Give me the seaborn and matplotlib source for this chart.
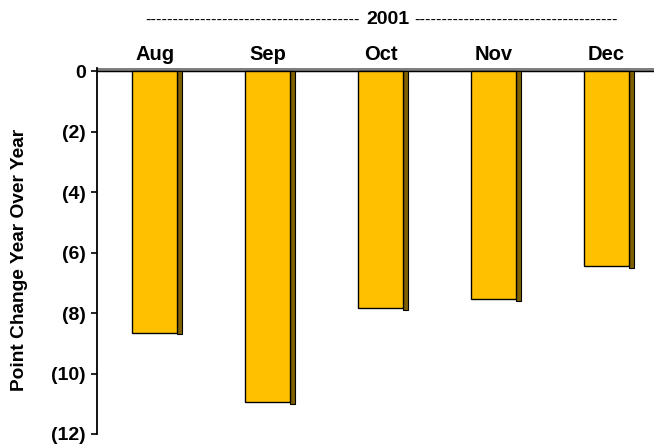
import matplotlib
matplotlib.use("Agg")
import matplotlib.pyplot as plt
import seaborn as sns
import pandas as pd
from matplotlib.patches import Rectangle

months = ["Aug", "Sep", "Oct", "Nov", "Dec"]
values = [-8.65, -10.95, -7.85, -7.55, -6.45]
ytick_vals = [0, -2, -4, -6, -8, -10, -12]
ytick_labels = ["0", "(2)", "(4)", "(6)", "(8)", "(10)", "(12)"]
header = "2001"
ylabel = "Point Change Year Over Year"

sns.set_theme(style="white")
plt.rcParams['font.family'] = ['Liberation Sans', 'DejaVu Sans']
plt.rcParams['text.color'] = 'black'
plt.rcParams['xtick.color'] = 'black'
plt.rcParams['ytick.color'] = 'black'
plt.rcParams['xtick.labelcolor'] = 'black'
plt.rcParams['ytick.labelcolor'] = 'black'

df = pd.DataFrame({"month": months, "value": values})

fig = plt.figure(figsize=(6.54, 4.46), dpi=100)
ax = fig.add_axes([97/654, 1-434/446, 1-97/654, (434-68)/446])

sns.barplot(data=df, x="month", y="value", ax=ax, color="#FFC000",
            width=0.4, saturation=1, edgecolor="black", linewidth=1.0, zorder=3)

# 3D-style shadow on the right of each bar
for p in list(ax.patches):
    x0 = p.get_x() + p.get_width()
    h = p.get_height()
    ax.add_patch(Rectangle((x0, 0), 0.045, h - 0.05, facecolor="#7F6000",
                           edgecolor="black", linewidth=0.8, zorder=2))

# floor line at zero
ax.axhline(0.05, color="#7f7f7f", lw=3, zorder=1)
ax.axhline(0, color="black", lw=1, zorder=1.5)

ax.set_xlim(-0.51, 4.42)
ax.set_ylim(-12, 0.1)
ax.set_yticks(ytick_vals)
ax.set_yticklabels(ytick_labels, fontsize=14, fontweight="bold", color="black")
ax.tick_params(axis="y", direction="out", length=4, width=1.2, color="black", pad=4, left=True)
ax.xaxis.tick_top()
ax.tick_params(axis="x", length=0, pad=3)
for lbl in ax.get_xticklabels():
    lbl.set_fontsize(14.5)
    lbl.set_fontweight("bold")
    lbl.set_color("black")
ax.set_xlabel("")
ax.set_ylabel("")

for s in ["top", "right", "bottom"]:
    ax.spines[s].set_visible(False)
ax.spines["left"].set_color("black")
ax.spines["left"].set_linewidth(1.3)

fig.text(20/654, 1-260/446, ylabel, rotation=90, fontsize=13.8, fontweight="bold",
         ha="center", va="center", color="black")
ytxt = 1-20/446
fig.text(360/654, ytxt, "-" * 39, fontsize=12, ha="right", va="center", color="black")
fig.text(388/654, ytxt, header, fontsize=14, fontweight="bold", ha="center", va="center", color="black")
fig.text(414/654, ytxt, "-" * 37, fontsize=12, ha="left", va="center", color="black")

fig.savefig("out.png", dpi=100)
